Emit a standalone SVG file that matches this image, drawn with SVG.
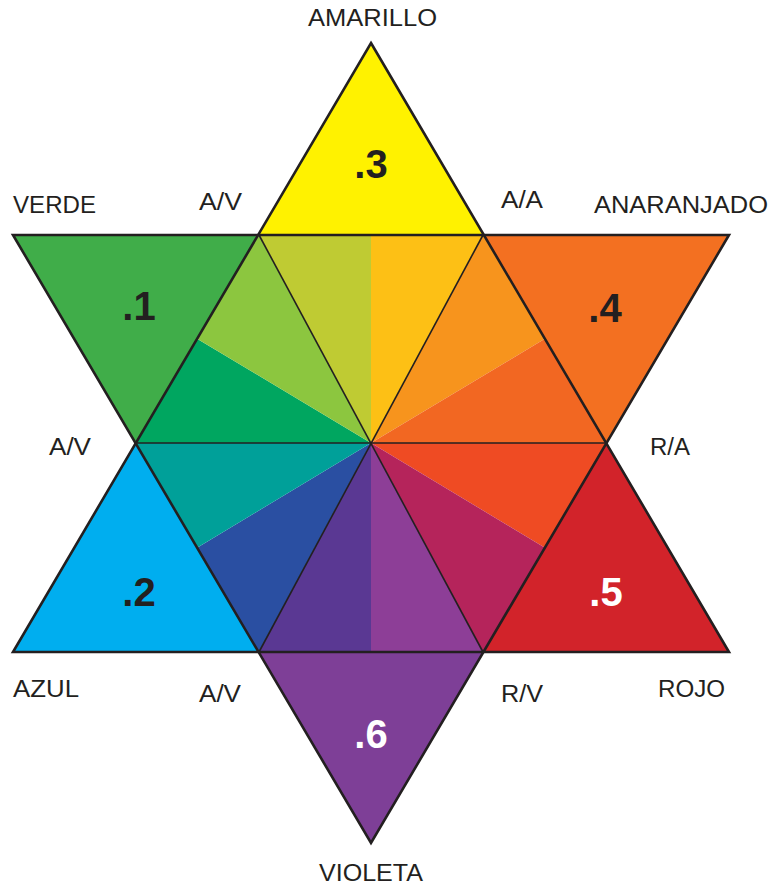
<svg xmlns="http://www.w3.org/2000/svg" width="771" height="886" viewBox="0 0 771 886">
<style>
.lbl{font-family:"Liberation Sans",Arial,sans-serif;font-size:23px;fill:#231F20;}
.num{font-family:"Liberation Sans",Arial,sans-serif;font-size:40px;font-weight:bold;text-anchor:middle;}
.outline{fill:none;stroke:#231F20;stroke-width:2.6;stroke-linejoin:miter;}
.inner{stroke:#231F20;stroke-width:1.6;}
</style>
<rect width="771" height="886" fill="#FFFFFF"/>
<g id="hexagon">
<polygon points="371,443 259,235 371,235" fill="#BFCB33"/>
<polygon points="371,443 371,235 483,235" fill="#FDC015"/>
<polygon points="371,443 483,235 544.5,339" fill="#F7941D"/>
<polygon points="371,443 544.5,339 606,443" fill="#F26722"/>
<polygon points="371,443 606,443 544.5,547.5" fill="#EF4B23"/>
<polygon points="371,443 544.5,547.5 483,652" fill="#B5245B"/>
<polygon points="371,443 483,652 371,652" fill="#8D3E97"/>
<polygon points="371,443 371,652 259,652" fill="#5A3893"/>
<polygon points="371,443 259,652 197.5,547.5" fill="#2A4FA2"/>
<polygon points="371,443 197.5,547.5 136,443" fill="#00A099"/>
<polygon points="371,443 136,443 197.5,339" fill="#00A660"/>
<polygon points="371,443 197.5,339 259,235" fill="#8CC63F"/>
</g>
<g id="amarillo">
<polygon points="371,43 483,235 259,235" fill="#FFF200"/>
<text class="num" x="371" y="178" fill="#231F20">.3</text>
<text class="lbl" x="308" y="26" textLength="129" lengthAdjust="spacingAndGlyphs">AMARILLO</text>
</g>
<g id="verde">
<polygon points="13,235 259,235 136,443" fill="#40AD49"/>
<text class="num" x="139" y="320" fill="#231F20">.1</text>
<text class="lbl" x="13" y="213" textLength="83" lengthAdjust="spacingAndGlyphs">VERDE</text>
</g>
<g id="anaranjado">
<polygon points="483,235 729,235 606,443" fill="#F37021"/>
<text class="num" x="605" y="322" fill="#231F20">.4</text>
<text class="lbl" x="594" y="213" textLength="174" lengthAdjust="spacingAndGlyphs">ANARANJADO</text>
</g>
<g id="azul">
<polygon points="136,443 259,652 13,652" fill="#00AEEF"/>
<text class="num" x="139" y="606" fill="#231F20">.2</text>
<text class="lbl" x="13" y="697" textLength="66" lengthAdjust="spacingAndGlyphs">AZUL</text>
</g>
<g id="rojo">
<polygon points="606,443 729,652 483,652" fill="#D2232A"/>
<text class="num" x="606" y="606" fill="#FFFFFF">.5</text>
<text class="lbl" x="658" y="697" textLength="67" lengthAdjust="spacingAndGlyphs">ROJO</text>
</g>
<g id="violeta">
<polygon points="259,652 483,652 371,843" fill="#7E3F97"/>
<text class="num" x="371" y="748" fill="#FFFFFF">.6</text>
<text class="lbl" x="319" y="881" textLength="104" lengthAdjust="spacingAndGlyphs">VIOLETA</text>
</g>
<g id="mix-labels">
<text class="lbl" x="199" y="210" textLength="43" lengthAdjust="spacingAndGlyphs">A/V</text>
<text class="lbl" x="501" y="208" textLength="42" lengthAdjust="spacingAndGlyphs">A/A</text>
<text class="lbl" x="49" y="455" textLength="42" lengthAdjust="spacingAndGlyphs">A/V</text>
<text class="lbl" x="650" y="455" textLength="40" lengthAdjust="spacingAndGlyphs">R/A</text>
<text class="lbl" x="199" y="702" textLength="42" lengthAdjust="spacingAndGlyphs">A/V</text>
<text class="lbl" x="501" y="702" textLength="42" lengthAdjust="spacingAndGlyphs">R/V</text>
</g>
<g id="connectors">
<line class="inner" x1="259" y1="235" x2="483" y2="652"/>
<line class="inner" x1="483" y1="235" x2="259" y2="652"/>
<line class="inner" x1="136" y1="443" x2="606" y2="443"/>
<polygon class="outline" points="371,43 729,652 13,652"/>
<polygon class="outline" points="13,235 729,235 371,843"/>
</g>
</svg>
